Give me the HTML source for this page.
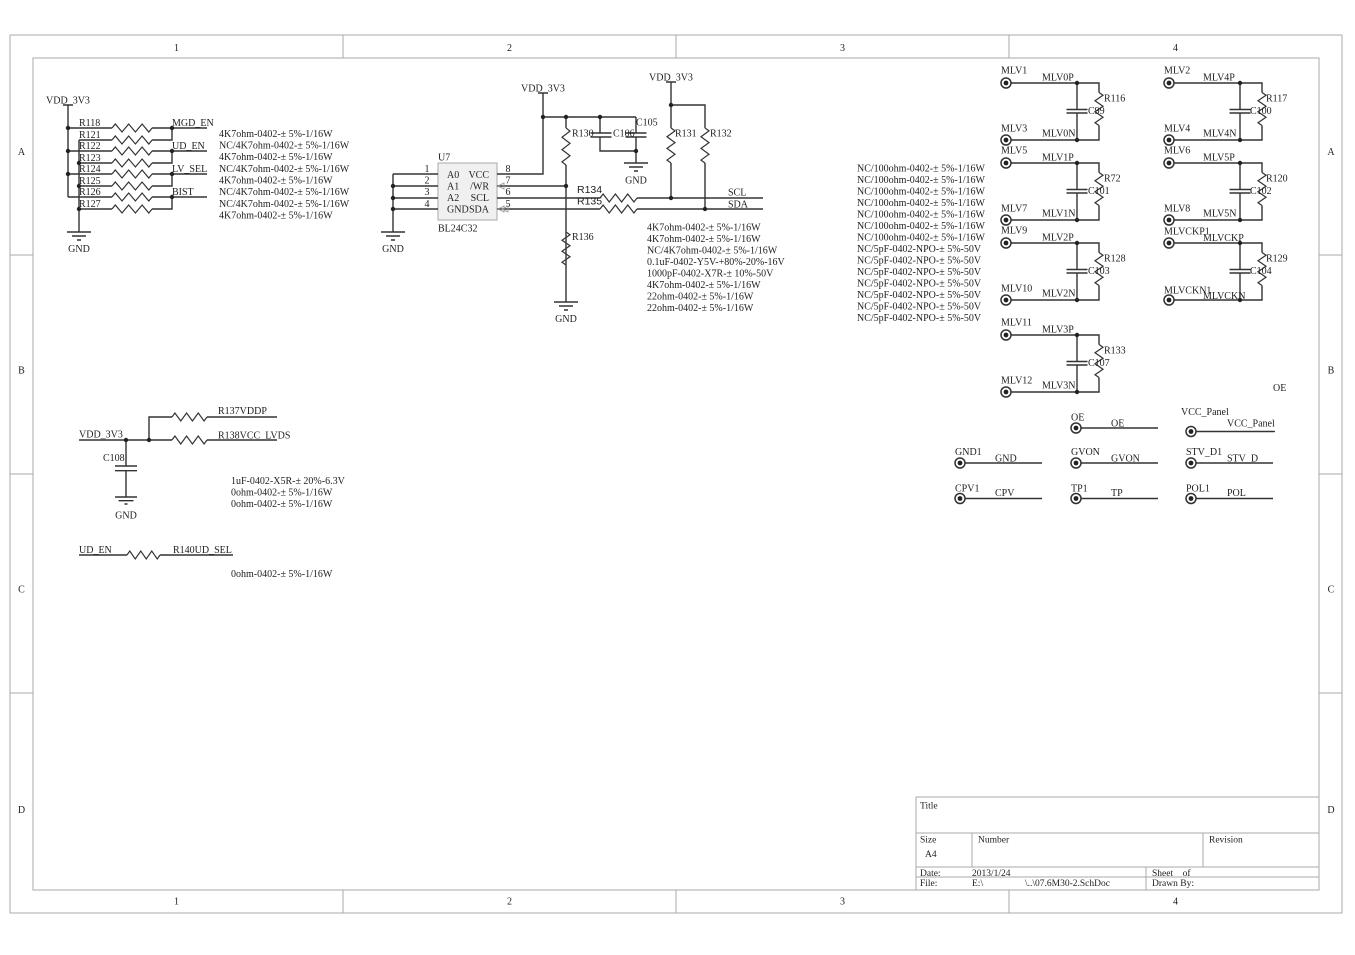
<!DOCTYPE html>
<html><head><meta charset="utf-8"><style>
html,body{margin:0;padding:0;background:#fff;}
svg{display:block;}
text{font-family:"Liberation Serif",serif;font-size:10px;fill:#222;}
.s{font-family:"Liberation Sans",sans-serif;font-size:10.5px;}
.t{font-size:9.5px;}
.w{stroke:#333;stroke-width:1.4;fill:none;}
.r{stroke:#333;stroke-width:1.2;fill:none;}
.f{stroke:#aaa;stroke-width:1;fill:none;}
.d{fill:#222;}
</style></head><body>
<svg width="1355" height="955" viewBox="0 0 1355 955" xmlns="http://www.w3.org/2000/svg">
<!-- frame -->
<rect x="10" y="35" width="1332" height="878" fill="#fafafa" class="f"/>
<rect x="33" y="58" width="1286" height="832" class="f"/>
<path class="f" d="M343 35V58M676 35V58M1009 35V58M343 890V913M676 890V913M1009 890V913M10 255H33M10 474H33M10 693H33M1319 255H1342M1319 474H1342M1319 693H1342"/>
<g text-anchor="middle">
<text x="176.5" y="51">1</text><text x="509.5" y="51">2</text><text x="842.5" y="51">3</text><text x="1175.5" y="51">4</text>
<text x="176.5" y="904.5">1</text><text x="509.5" y="904.5">2</text><text x="842.5" y="904.5">3</text><text x="1175.5" y="904.5">4</text>
<text x="21.5" y="155">A</text><text x="21.5" y="373.5">B</text><text x="21.5" y="592.5">C</text><text x="21.5" y="813">D</text>
<text x="1331" y="155">A</text><text x="1331" y="373.5">B</text><text x="1331" y="592.5">C</text><text x="1331" y="813">D</text>
</g>

<!-- top-left resistor array -->
<text x="68" y="103.5" text-anchor="middle">VDD_3V3</text>
<path class="w" d="M63 105H73M68 105V197M79 140V232
M68 128H112M152 128H207
M79 140H112M152 140H172V128
M68 151H112M152 151H207
M79 163H112M152 163H172V151
M68 174H112M152 174H207
M79 186H112M152 186H172V174
M68 197H112M152 197H207
M79 209H112M152 209H172V197
M67 232H91M72 236H86M77 240H81"/>
<path class="r" d="M112 128l3.3 -4l6.7 8l6.7 -8l6.7 8l6.7 -8l6.7 8l3.3 -4
M112 140l3.3 -4l6.7 8l6.7 -8l6.7 8l6.7 -8l6.7 8l3.3 -4
M112 151l3.3 -4l6.7 8l6.7 -8l6.7 8l6.7 -8l6.7 8l3.3 -4
M112 163l3.3 -4l6.7 8l6.7 -8l6.7 8l6.7 -8l6.7 8l3.3 -4
M112 174l3.3 -4l6.7 8l6.7 -8l6.7 8l6.7 -8l6.7 8l3.3 -4
M112 186l3.3 -4l6.7 8l6.7 -8l6.7 8l6.7 -8l6.7 8l3.3 -4
M112 197l3.3 -4l6.7 8l6.7 -8l6.7 8l6.7 -8l6.7 8l3.3 -4
M112 209l3.3 -4l6.7 8l6.7 -8l6.7 8l6.7 -8l6.7 8l3.3 -4"/>
<g class="d"><circle cx="68" cy="128" r="2.2"/><circle cx="68" cy="151" r="2.2"/><circle cx="68" cy="174" r="2.2"/>
<circle cx="172" cy="128" r="2.2"/><circle cx="172" cy="151" r="2.2"/><circle cx="172" cy="174" r="2.2"/><circle cx="172" cy="197" r="2.2"/>
<circle cx="79" cy="163" r="2.2"/><circle cx="79" cy="186" r="2.2"/><circle cx="79" cy="209" r="2.2"/></g>
<text x="79" y="126">R118</text><text x="79" y="138">R121</text><text x="79" y="149">R122</text><text x="79" y="161">R123</text>
<text x="79" y="172">R124</text><text x="79" y="184">R125</text><text x="79" y="195">R126</text><text x="79" y="207">R127</text>
<text x="172" y="126">MGD_EN</text><text x="172" y="149">UD_EN</text><text x="172" y="172">LV_SEL</text><text x="172" y="195">BIST</text>
<text x="79" y="252" text-anchor="middle">GND</text>
<text x="219" y="137">4K7ohm-0402-± 5%-1/16W</text>
<text x="219" y="148.5">NC/4K7ohm-0402-± 5%-1/16W</text>
<text x="219" y="160">4K7ohm-0402-± 5%-1/16W</text>
<text x="219" y="172">NC/4K7ohm-0402-± 5%-1/16W</text>
<text x="219" y="183.5">4K7ohm-0402-± 5%-1/16W</text>
<text x="219" y="195">NC/4K7ohm-0402-± 5%-1/16W</text>
<text x="219" y="207">NC/4K7ohm-0402-± 5%-1/16W</text>
<text x="219" y="218.5">4K7ohm-0402-± 5%-1/16W</text>

<!-- U7 EEPROM -->
<rect x="438" y="163" width="59" height="57" fill="#f0f0f0" stroke="#aaa" stroke-width="1"/>
<text x="438" y="160.5">U7</text><text x="438" y="231.5">BL24C32</text>
<text x="447" y="178">A0</text><text x="447" y="189.5">A1</text><text x="447" y="201">A2</text><text x="447" y="212.5">GND</text>
<g text-anchor="end"><text x="489" y="178">VCC</text><text x="489" y="189.5">/WR</text><text x="489" y="201">SCL</text><text x="489" y="212.5">SDA</text></g>
<g text-anchor="middle"><text x="427" y="172">1</text><text x="427" y="183.5">2</text><text x="427" y="195">3</text><text x="427" y="207">4</text>
<text x="508" y="172">8</text><text x="508" y="183.5">7</text><text x="508" y="195">6</text><text x="508" y="207">5</text></g>
<text x="543" y="91.5" text-anchor="middle">VDD_3V3</text>
<text x="671" y="80.5" text-anchor="middle">VDD_3V3</text>
<path class="w" d="M538 93H548M543 93V174H497M543 117H636
M566 117V128M566 165V302
M600 117V133M600 137V151H636M636 117V133M636 137V163
M590.5 133H611.5M590.5 137H611.5M625.5 133H646.5M625.5 137H646.5
M497 186H566M497 198H600M637 198H763M497 209H600M637 209H763
M393 174V232M393 174H438M393 186H438M393 198H438M393 209H438
M666 82H676M671 82V128M671 163V198M671 105H705V128M705 163V209
M381 232H405M386 236H400M391 240H395
M554 302H578M559 306H573M564 310H568
M624 163H648M629 167H643M634 171H638"/>
<path class="r" d="M566 128l4 3.08l-8 6.17l8 6.17l-8 6.17l8 6.17l-8 6.17l4 3.08
M566 232l4 2.75l-8 5.5l8 5.5l-8 5.5l8 5.5l-8 5.5l4 2.75
M671 128l4 2.92l-8 5.83l8 5.83l-8 5.83l8 5.83l-8 5.83l4 2.92
M705 128l4 2.92l-8 5.83l8 5.83l-8 5.83l8 5.83l-8 5.83l4 2.92
M600 198l3.08 -4l6.17 8l6.17 -8l6.17 8l6.17 -8l6.17 8l3.08 -4
M600 209l3.08 -4l6.17 8l6.17 -8l6.17 8l6.17 -8l6.17 8l3.08 -4"/>
<path d="M498 186l6 -3v6z M498 209l6 -3v6z M502 209l6 -3v6z" fill="none" stroke="#999" stroke-width="0.9"/>
<g class="d"><circle cx="543" cy="117" r="2.2"/><circle cx="566" cy="117" r="2.2"/><circle cx="600" cy="117" r="2.2"/>
<circle cx="636" cy="151" r="2.2"/><circle cx="566" cy="186" r="2.2"/><circle cx="393" cy="186" r="2.2"/>
<circle cx="393" cy="198" r="2.2"/><circle cx="393" cy="209" r="2.2"/><circle cx="671" cy="105" r="2.2"/>
<circle cx="671" cy="198" r="2.2"/><circle cx="705" cy="209" r="2.2"/></g>
<text x="572" y="136.5">R130</text><text x="613" y="136.5">C106</text><text x="636" y="125.5">C105</text>
<text x="572" y="240">R136</text><text x="675" y="136.5">R131</text><text x="710" y="136.5">R132</text>
<text class="s" x="577" y="193">R134</text><text class="s" x="577" y="204.5">R135</text>
<text x="728" y="195.5">SCL</text><text x="728" y="207.5">SDA</text>
<text x="393" y="252" text-anchor="middle">GND</text>
<text x="566" y="322" text-anchor="middle">GND</text>
<text x="636" y="183.5" text-anchor="middle">GND</text>
<text x="647" y="230.5">4K7ohm-0402-± 5%-1/16W</text>
<text x="647" y="242">4K7ohm-0402-± 5%-1/16W</text>
<text x="647" y="253.5">NC/4K7ohm-0402-± 5%-1/16W</text>
<text x="647" y="265">0.1uF-0402-Y5V-+80%-20%-16V</text>
<text x="647" y="276.5">1000pF-0402-X7R-± 10%-50V</text>
<text x="647" y="288">4K7ohm-0402-± 5%-1/16W</text>
<text x="647" y="299.5">22ohm-0402-± 5%-1/16W</text>
<text x="647" y="311">22ohm-0402-± 5%-1/16W</text>

<text x="857" y="171.5">NC/100ohm-0402-± 5%-1/16W</text>
<text x="857" y="183">NC/100ohm-0402-± 5%-1/16W</text>
<text x="857" y="194.5">NC/100ohm-0402-± 5%-1/16W</text>
<text x="857" y="206">NC/100ohm-0402-± 5%-1/16W</text>
<text x="857" y="217.5">NC/100ohm-0402-± 5%-1/16W</text>
<text x="857" y="229">NC/100ohm-0402-± 5%-1/16W</text>
<text x="857" y="240.5">NC/100ohm-0402-± 5%-1/16W</text>
<text x="857" y="252">NC/5pF-0402-NPO-± 5%-50V</text>
<text x="857" y="263.5">NC/5pF-0402-NPO-± 5%-50V</text>
<text x="857" y="275">NC/5pF-0402-NPO-± 5%-50V</text>
<text x="857" y="286.5">NC/5pF-0402-NPO-± 5%-50V</text>
<text x="857" y="298">NC/5pF-0402-NPO-± 5%-50V</text>
<text x="857" y="309.5">NC/5pF-0402-NPO-± 5%-50V</text>
<text x="857" y="321">NC/5pF-0402-NPO-± 5%-50V</text>

<!-- MLV blocks -->
<defs>
<g id="blk">
<path class="w" d="M1011 83H1099V92.5M1099 125.5V140H1011M1077 83V109.5M1077 113V140M1066.5 109.5H1087.5M1066.5 113H1087.5"/>
<path class="r" d="M1099 92.5l4 2.75l-8 5.5l8 5.5l-8 5.5l8 5.5l-8 5.5l4 2.75"/>
<circle cx="1077" cy="83" r="2.2" fill="#222"/><circle cx="1077" cy="140" r="2.2" fill="#222"/>
<circle cx="1006" cy="83" r="5" fill="none" stroke="#333" stroke-width="1.5"/><circle cx="1006" cy="83" r="2.4" fill="#222"/>
<circle cx="1006" cy="140" r="5" fill="none" stroke="#333" stroke-width="1.5"/><circle cx="1006" cy="140" r="2.4" fill="#222"/>
</g>
<g id="con">
<circle cx="0" cy="0" r="5" fill="none" stroke="#333" stroke-width="1.5"/><circle cx="0" cy="0" r="2.4" fill="#222"/>
<path class="w" d="M5 0H82"/>
</g>
</defs>
<use href="#blk"/>
<text x="1001" y="73.5">MLV1</text><text x="1042" y="80.5">MLV0P</text><text x="1104" y="101.5">R116</text><text x="1088" y="114">C99</text><text x="1001" y="131.5">MLV3</text><text x="1042" y="136.5">MLV0N</text>
<use href="#blk" transform="translate(0,80)"/>
<text x="1001" y="153.5">MLV5</text><text x="1042" y="160.5">MLV1P</text><text x="1104" y="181.5">R72</text><text x="1088" y="194">C101</text><text x="1001" y="211.5">MLV7</text><text x="1042" y="216.5">MLV1N</text>
<use href="#blk" transform="translate(0,160)"/>
<text x="1001" y="233.5">MLV9</text><text x="1042" y="240.5">MLV2P</text><text x="1104" y="261.5">R128</text><text x="1088" y="274">C103</text><text x="1001" y="291.5">MLV10</text><text x="1042" y="296.5">MLV2N</text>
<use href="#blk" transform="translate(0,252)"/>
<text x="1001" y="325.5">MLV11</text><text x="1042" y="332.5">MLV3P</text><text x="1104" y="353.5">R133</text><text x="1088" y="366">C107</text><text x="1001" y="383.5">MLV12</text><text x="1042" y="388.5">MLV3N</text>
<use href="#blk" transform="translate(163,0)"/>
<text x="1164" y="73.5">MLV2</text><text x="1203" y="80.5">MLV4P</text><text x="1266" y="101.5">R117</text><text x="1250" y="114">C100</text><text x="1164" y="131.5">MLV4</text><text x="1203" y="136.5">MLV4N</text>
<use href="#blk" transform="translate(163,80)"/>
<text x="1164" y="153.5">MLV6</text><text x="1203" y="160.5">MLV5P</text><text x="1266" y="181.5">R120</text><text x="1250" y="194">C102</text><text x="1164" y="211.5">MLV8</text><text x="1203" y="216.5">MLV5N</text>
<use href="#blk" transform="translate(163,160)"/>
<text x="1164" y="234.5">MLVCKP1</text><text x="1203" y="241">MLVCKP</text><text x="1266" y="261.5">R129</text><text x="1250" y="274">C104</text><text x="1164" y="293.5">MLVCKN1</text><text x="1203" y="299">MLVCKN</text>
<text x="1273" y="391">OE</text>

<!-- connectors -->
<use href="#con" transform="translate(1076,428)"/>
<text x="1071" y="420.5">OE</text><text x="1111" y="426.5">OE</text>
<use href="#con" transform="translate(1191,431.5)"/>
<path class="w" d="M1273 431.5H1275"/>
<text x="1181" y="415">VCC_Panel</text><text x="1227" y="426.5">VCC_Panel</text>
<use href="#con" transform="translate(960,463)"/>
<text x="955" y="455">GND1</text><text x="995" y="461.5">GND</text>
<use href="#con" transform="translate(1076,463)"/>
<text x="1071" y="455">GVON</text><text x="1111" y="461.5">GVON</text>
<use href="#con" transform="translate(1191,463)"/>
<text x="1186" y="455">STV_D1</text><text x="1227" y="461.5">STV_D</text>
<use href="#con" transform="translate(960,498.5)"/>
<text x="955" y="491.5">CPV1</text><text x="995" y="496">CPV</text>
<use href="#con" transform="translate(1076,498.5)"/>
<text x="1071" y="491.5">TP1</text><text x="1111" y="496">TP</text>
<use href="#con" transform="translate(1191,498.5)"/>
<text x="1186" y="491.5">POL1</text><text x="1227" y="496">POL</text>

<!-- bottom-left power -->
<text x="79" y="437.5">VDD_3V3</text>
<path class="w" d="M79 440H172M207 440H277M149 440V417H172M207 417H277
M126 440V466M115 466H137M115 470.7H137M126 470.7V497
M115 497H137M118.5 500.7H133.5M124.5 504H127.5
M79 555H127M160 555H233"/>
<path class="r" d="M172 417l2.92 -4l5.83 8l5.83 -8l5.83 8l5.83 -8l5.83 8l2.92 -4
M172 440l2.92 -4l5.83 8l5.83 -8l5.83 8l5.83 -8l5.83 8l2.92 -4
M127 555l2.75 -4l5.5 8l5.5 -8l5.5 8l5.5 -8l5.5 8l2.75 -4"/>
<circle cx="126" cy="440" r="2.2" class="d"/><circle cx="149" cy="440" r="2.2" class="d"/>
<text x="218" y="414">R137VDDP</text><text x="218" y="438.5">R138VCC_LVDS</text>
<text x="103" y="461">C108</text>
<text x="126" y="518.5" text-anchor="middle">GND</text>
<text x="231" y="484">1uF-0402-X5R-± 20%-6.3V</text>
<text x="231" y="495.5">0ohm-0402-± 5%-1/16W</text>
<text x="231" y="507">0ohm-0402-± 5%-1/16W</text>
<text x="79" y="553">UD_EN</text><text x="173" y="553">R140UD_SEL</text>
<text x="231" y="577">0ohm-0402-± 5%-1/16W</text>

<!-- title block -->
<rect x="916" y="797" width="403" height="93" class="f"/>
<path class="f" d="M916 833H1319M916 867H1319M916 877H1319M972 833V867M1203 833V867M1146 867V890"/>
<g class="t">
<text class="t" x="920" y="808.5">Title</text>
<text class="t" x="920" y="842.5">Size</text>
<text class="t" x="978" y="842.5">Number</text>
<text class="t" x="1209" y="842.5">Revision</text>
<text class="t" x="925" y="857">A4</text>
<text class="t" x="920" y="876">Date:</text>
<text class="t" x="972" y="876">2013/1/24</text>
<text class="t" x="1152" y="876">Sheet&#160;&#160;&#160;&#160;of</text>
<text class="t" x="920" y="886">File:</text>
<text class="t" x="972" y="886">E:\</text>
<text class="t" x="1025" y="886">\..\07.6M30-2.SchDoc</text>
<text class="t" x="1152" y="886">Drawn By:</text>
</g>
</svg>
</body></html>
